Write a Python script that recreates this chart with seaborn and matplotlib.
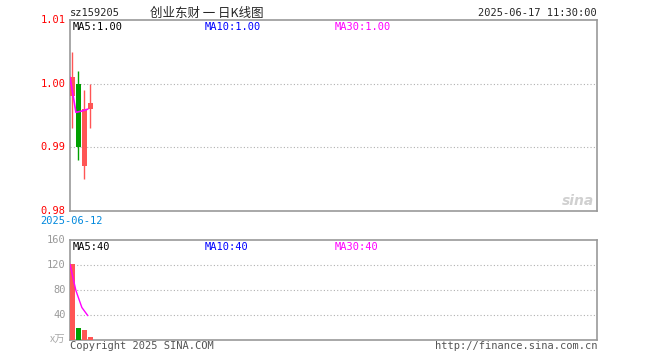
import numpy as np
import pandas as pd
import matplotlib
matplotlib.use("Agg")
import matplotlib.pyplot as plt
import seaborn as sns

# daily k-line data
days = [0, 1, 2, 3]
open_ = [0.998, 1.000, 0.987, 0.996]
close = [1.001, 0.990, 0.996, 0.997]
high = [1.005, 1.002, 0.999, 1.000]
low = [0.993, 0.988, 0.985, 0.993]
ma5 = [1.001, 0.9955, 0.9957, 0.996]
volume = [121, 19, 15.5, 4.8]
vol_ma5 = [121, 79, 52, 39]

price_ticks = [0.98, 0.99, 1.00, 1.01]
vol_ticks = [40, 80, 120, 160]

sns.set_style("white")
plt.rcParams['font.family'] = ['DejaVu Sans Mono', 'Noto Sans CJK SC']

RED = "#ff5555"
GREEN = "#00a000"
BORDER = "#999999"
MONO = "DejaVu Sans Mono"
CJK = ["Noto Sans CJK SC", "DejaVu Sans"]

fig = plt.figure(figsize=(6.6, 3.6), dpi=100)
ax = fig.add_axes([70/660, 1-211/360, 527/660, 191/360])
axv = fig.add_axes([70/660, 1-340/360, 527/660, 100/360])

df = pd.DataFrame({"day": days, "open": open_, "close": close,
                   "high": high, "low": low, "ma5": ma5,
                   "vol": volume, "vol_ma5": vol_ma5})
df["up"] = df["close"] >= df["open"]
colors = [RED if u else GREEN for u in df["up"]]

# candles
ax.vlines(df["day"], df["low"], df["high"], colors=colors, lw=1.0, zorder=2)
ax.bar(df["day"], (df["close"] - df["open"]).abs(), bottom=df[["open", "close"]].min(axis=1),
       width=0.8, color=colors, linewidth=0, zorder=3)
sns.lineplot(x=df["day"] - 0.42, y=df["ma5"], ax=ax, color="#ff00ff", lw=1.2, zorder=4)

ax.set_xlim(-0.42, 88.4)
ax.set_ylim(0.98, 1.01)
for v in [0.99, 1.00]:
    ax.axhline(v, color="#b0b0b0", ls=(0, (1, 2)), lw=0.8, zorder=1)

# volume
axv.bar(df["day"], df["vol"], width=0.8, color=colors, linewidth=0, zorder=3)
sns.lineplot(x=df["day"] - 0.42, y=df["vol_ma5"], ax=axv, color="#ff00ff", lw=1.0, zorder=4)
axv.set_xlim(-0.42, 88.4)
axv.set_ylim(0, 160)
for v in [40, 80, 120]:
    axv.axhline(v, color="#b0b0b0", ls=(0, (1, 2)), lw=0.8, zorder=1)

for a in (ax, axv):
    a.set_xticks([])
    a.set_yticks([])
    a.set_xlabel("")
    a.set_ylabel("")
    for s in a.spines.values():
        s.set_color(BORDER)
        s.set_linewidth(1.2)

# price tick labels
for p in price_ticks:
    ax.text(-0.008, p, f"{p:.2f}", transform=ax.get_yaxis_transform(), ha="right",
            va="center", color="red", fontsize=7.5, family=MONO)
ax.text(-0.057, -0.05, "2025-06-12", transform=ax.transAxes, ha="left", va="center",
        color="#0088dd", fontsize=7.5, family=MONO)

for v in vol_ticks:
    axv.text(-0.008, v, f"{v}", transform=axv.get_yaxis_transform(), ha="right",
             va="center", color="#999999", fontsize=7.5, family=MONO)
axv.text(-0.008, 0, "x万", transform=axv.get_yaxis_transform(), ha="right",
         va="center", color="#aaaaaa", fontsize=7.5, family=CJK)

# MA labels
ax.text(3/527, 0.965, "MA5:1.00", transform=ax.transAxes, color="black", fontsize=7.5,
        family=MONO, va="center")
ax.text(135/527, 0.965, "MA10:1.00", transform=ax.transAxes, color="#0000ff", fontsize=7.5,
        family=MONO, va="center")
ax.text(265/527, 0.965, "MA30:1.00", transform=ax.transAxes, color="#ff00ff", fontsize=7.5,
        family=MONO, va="center")
axv.text(3/527, 0.93, "MA5:40", transform=axv.transAxes, color="black", fontsize=7.5,
         family=MONO, va="center")
axv.text(135/527, 0.93, "MA10:40", transform=axv.transAxes, color="#0000ff", fontsize=7.5,
         family=MONO, va="center")
axv.text(265/527, 0.93, "MA30:40", transform=axv.transAxes, color="#ff00ff", fontsize=7.5,
         family=MONO, va="center")

# header / footer
fig.text(70/660, 1-13/360, "sz159205", fontsize=7.5, family=MONO, va="center")
fig.text(150/660, 1-13/360, "创业东财 一 日K线图", fontsize=9, family=CJK, va="center")
fig.text(597/660, 1-13/360, "2025-06-17 11:30:00", fontsize=7.5, family=MONO,
         va="center", ha="right")
fig.text(70/660, 1-346/360, "Copyright 2025 SINA.COM", fontsize=7.5, family=MONO,
         va="center", color="#555555")
fig.text(597/660, 1-346/360, "http://finance.sina.com.cn", fontsize=7.5, family=MONO,
         va="center", ha="right", color="#555555")

# sina watermark
ax.text(0.995, 0.05, "sina", transform=ax.transAxes, ha="right", va="center",
        fontsize=10, style="italic", weight="bold", color="#d0d0d0", family="DejaVu Sans")

fig.savefig("out.png", dpi=100)
